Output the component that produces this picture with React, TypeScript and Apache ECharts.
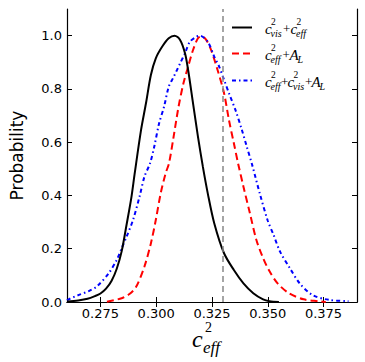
import React, { useEffect, useRef } from 'react';
import * as echarts from 'echarts';

const xTicks = [0.275, 0.3, 0.325, 0.35, 0.375];
const yTicks = [0, 0.2, 0.4, 0.6, 0.8, 1.0];
const refLineX = 0.33;

const visEffData = [
  [0.26, 0.002], [0.265, 0.006], [0.2692, 0.012], [0.2725, 0.022], [0.275, 0.032],
  [0.2775, 0.05], [0.28, 0.08], [0.2823, 0.125], [0.2845, 0.19], [0.2867, 0.29],
  [0.2889, 0.395], [0.2903, 0.48], [0.2932, 0.646], [0.2954, 0.746], [0.2976, 0.852],
  [0.2998, 0.915], [0.3027, 0.959], [0.3056, 0.99], [0.3082, 1.0], [0.3107, 0.984],
  [0.3129, 0.934], [0.3143, 0.871], [0.3165, 0.746], [0.3187, 0.621], [0.3209, 0.508],
  [0.3231, 0.408], [0.326, 0.296], [0.3304, 0.183], [0.3348, 0.12], [0.3391, 0.07],
  [0.3435, 0.033], [0.3479, 0.01], [0.3508, 0.003], [0.355, 0.0],
];

const effALData = [
  [0.2779, 0.001], [0.2845, 0.014], [0.288, 0.03], [0.291, 0.057], [0.2947, 0.133],
  [0.2976, 0.22], [0.2998, 0.308], [0.302, 0.408], [0.3042, 0.483], [0.3057, 0.52],
  [0.3078, 0.621], [0.31, 0.733], [0.3122, 0.821], [0.3143, 0.884], [0.3165, 0.946],
  [0.3187, 0.99], [0.3203, 0.997], [0.3224, 0.984], [0.3246, 0.946], [0.3275, 0.871],
  [0.3304, 0.784], [0.3326, 0.683], [0.3348, 0.596], [0.3367, 0.52], [0.3391, 0.433],
  [0.342, 0.333], [0.3449, 0.233], [0.3479, 0.165], [0.3508, 0.115], [0.3544, 0.07],
  [0.3595, 0.033], [0.3661, 0.01], [0.3726, 0.003], [0.376, 0.0],
];

const effVisALData = [
  [0.26, 0.006], [0.2607, 0.01], [0.2651, 0.026], [0.27, 0.042], [0.2736, 0.06],
  [0.2787, 0.108], [0.2823, 0.158], [0.2845, 0.202], [0.2867, 0.245], [0.2896, 0.308],
  [0.2925, 0.395], [0.2947, 0.47], [0.2972, 0.52], [0.2991, 0.583], [0.3013, 0.671],
  [0.3035, 0.733], [0.3056, 0.808], [0.3075, 0.84], [0.3093, 0.871], [0.3107, 0.896],
  [0.3129, 0.934], [0.3151, 0.977], [0.318, 0.996], [0.3195, 1.0], [0.3231, 0.977],
  [0.326, 0.921], [0.3282, 0.884], [0.3304, 0.834], [0.3326, 0.784], [0.3355, 0.721],
  [0.3384, 0.646], [0.3406, 0.583], [0.3428, 0.521], [0.3464, 0.408], [0.35, 0.305],
  [0.3526, 0.252], [0.3555, 0.189], [0.3599, 0.127], [0.3643, 0.07], [0.3701, 0.026],
  [0.3774, 0.008], [0.3862, 0.003],
];

const SERIF = '"Liberation Serif", "DejaVu Serif", serif';
const SANS = '"DejaVu Sans", sans-serif';

function piece(text: string, x: number, y: number, size: number, italic: boolean) {
  return {
    type: 'text',
    x,
    y,
    silent: true,
    style: {
      text,
      fontSize: size,
      fontFamily: SERIF,
      fontStyle: italic ? 'italic' : 'normal',
      fill: '#000',
      verticalAlign: 'middle',
      align: 'left',
    },
  };
}

function mathC(x: number, yc: number, sub: string) {
  return [
    piece('c', x, yc, 15, true),
    piece('2', x + 6, yc - 7, 9.5, false),
    piece(sub, x + 5.5, yc + 4.5, 10, true),
  ];
}

function legendLine(y: number, color: string, dash: number[] | null) {
  return {
    type: 'line',
    silent: true,
    shape: { x1: 232, y1: y, x2: 252, y2: y },
    style: { stroke: color, lineWidth: 2, lineDash: dash || undefined },
  };
}

export default function App() {
  const ref = useRef<HTMLDivElement>(null);
  useEffect(() => {
    if (!ref.current) return;
    const chart = echarts.init(ref.current, null, { renderer: 'svg' });
    const axisLine = { show: true, lineStyle: { color: '#000', width: 1.2 } };
    const tick = (vals: number[]) => ({
      show: true, inside: true, length: 5, customValues: vals,
      lineStyle: { color: '#000', width: 1 },
    });
    const y1 = 28.5, y2 = 54.5, y3 = 81.5;
    const graphic: any[] = [
      legendLine(y1 - 1, '#000', null),
      legendLine(y2 - 1, '#ff0000', [7, 4]),
      legendLine(y3 - 1, '#0000ff', [4, 3, 1.5, 3]),
      ...mathC(265, y1, 'vis'),
      piece('+', 283, y1, 13, false),
      ...mathC(290.5, y1, 'eff'),
      ...mathC(265, y2, 'eff'),
      piece('+', 282.5, y2, 13, false),
      piece('A', 289.5, y2, 15, true),
      piece('L', 297.5, y2 + 4.5, 10, true),
      ...mathC(265, y3, 'eff'),
      piece('+', 281, y3, 13, false),
      ...mathC(287.5, y3, 'vis'),
      piece('+', 305, y3, 13, false),
      piece('A', 311.5, y3, 15, true),
      piece('L', 319.5, y3 + 4.5, 10, true),
      piece('c', 192, 339, 24, true),
      piece('2', 205, 327.5, 14, false),
      piece('eff', 203, 347, 17, true),
    ];
    chart.setOption({
      animation: false,
      grid: { left: 60, right: 8, top: 9, bottom: 60, containLabel: false },
      xAxis: [
        {
          type: 'value', min: 0.26, max: 0.39, position: 'bottom',
          axisLine, axisTick: tick(xTicks), splitLine: { show: false },
          axisLabel: {
            customValues: xTicks, margin: 5, color: '#000', fontSize: 13, fontFamily: SANS,
            formatter: (v: number) => v.toFixed(3),
          },
        },
        {
          type: 'value', min: 0.26, max: 0.39, position: 'top',
          axisLine, axisTick: tick(xTicks), splitLine: { show: false },
          axisLabel: { show: false },
        },
      ],
      yAxis: [
        {
          type: 'value', min: 0, max: 1.1, position: 'left',
          axisLine, axisTick: tick(yTicks), splitLine: { show: false },
          axisLabel: {
            customValues: yTicks, margin: 5, color: '#000', fontSize: 13, fontFamily: SANS,
            formatter: (v: number) => v.toFixed(1),
          },
          name: 'Probability', nameLocation: 'middle', nameGap: 42, nameRotate: 90,
          nameTextStyle: { color: '#000', fontSize: 17, fontFamily: SANS },
        },
        {
          type: 'value', min: 0, max: 1.1, position: 'right',
          axisLine, axisTick: tick(yTicks), splitLine: { show: false },
          axisLabel: { show: false },
        },
      ],
      series: [
        {
          name: 'c_vis^2 + c_eff^2', type: 'line', data: visEffData, showSymbol: false,
          smooth: 0.3, lineStyle: { color: '#000', width: 2 }, z: 3,
          markLine: {
            silent: true, symbol: 'none', label: { show: false },
            lineStyle: { color: '#888', type: [6, 4], width: 1.5 },
            data: [{ xAxis: refLineX }],
          },
        },
        {
          name: 'c_eff^2 + A_L', type: 'line', data: effALData, showSymbol: false,
          smooth: 0.3, lineStyle: { color: '#ff0000', width: 2, type: [7, 4] }, z: 2,
        },
        {
          name: 'c_eff^2 + c_vis^2 + A_L', type: 'line', data: effVisALData, showSymbol: false,
          smooth: 0.3, lineStyle: { color: '#0000ff', width: 2, type: [4, 3, 1.5, 3] }, z: 2,
        },
      ],
      graphic,
    });
    return () => chart.dispose();
  }, []);
  return (
    <div
      ref={ref}
      style={{ position: 'fixed', left: 0, top: 0, width: 365, height: 362, background: '#fff' }}
    />
  );
}
